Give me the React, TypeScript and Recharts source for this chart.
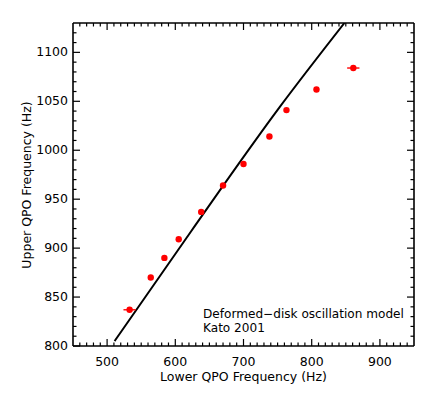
import { ComposedChart, Scatter, Line, XAxis, YAxis, ErrorBar } from "recharts";

const FONT = "'DejaVu Sans', sans-serif";
const RED = "#ff0000";

// observed QPO pairs (Hz)
const lowerQPO = [533, 564, 584, 605, 638, 670, 700, 738, 763, 807, 861];
const upperQPO = [837, 870, 890, 909, 937, 964, 986, 1014, 1041, 1062, 1084];
const lowerErr = [9, 0, 0, 0, 0, 0, 0, 0, 0, 0, 9];

// Kato 2001 deformed-disk model curve
const modelLower = [511, 623, 753, 848];
const modelUpper = [805, 917, 1044, 1130];

const xMajor = [500, 600, 700, 800, 900];
const yMajor = [800, 850, 900, 950, 1000, 1050, 1100];

const X_DOMAIN = [450, 950];
const Y_DOMAIN = [800, 1130];

const xTicks: number[] = [];
for (let v = X_DOMAIN[0] + 10; v < X_DOMAIN[1]; v += 10) xTicks.push(v);
const yTicks: number[] = [];
for (let v = Y_DOMAIN[0] + 10; v < Y_DOMAIN[1]; v += 10) yTicks.push(v);

const points = lowerQPO.map((x, i) => ({ x, y: upperQPO[i], err: lowerErr[i] }));
const model = modelLower.map((x, i) => ({ x, y: modelUpper[i] }));

const txt = { fontFamily: FONT, fontSize: 12.5, fill: "#000" };
const note = { fontFamily: FONT, fontSize: 12.1, fill: "#000" };
const axisLine = { stroke: "#000", strokeWidth: 1.6 };

function BottomTick({ x, y, payload }: any) {
  const v = payload.value;
  const major = xMajor.includes(v);
  return (
    <g>
      <line x1={x} x2={x} y1={y} y2={y - (major ? 7 : 3.5)} stroke="#000" strokeWidth={1.2} />
      {major && (
        <text x={x} y={y + 15} textAnchor="middle" dominantBaseline="central" style={txt}>{v}</text>
      )}
    </g>
  );
}

function TopTick({ x, y, payload }: any) {
  const major = xMajor.includes(payload.value);
  return <line x1={x} x2={x} y1={y} y2={y + (major ? 7 : 3.5)} stroke="#000" strokeWidth={1.2} />;
}

function LeftTick({ x, y, payload }: any) {
  const v = payload.value;
  const major = yMajor.includes(v);
  return (
    <g>
      <line x1={x} x2={x + (major ? 7 : 3.5)} y1={y} y2={y} stroke="#000" strokeWidth={1.2} />
      {major && (
        <text x={x - 5} y={y - 1} textAnchor="end" dominantBaseline="central" style={txt}>{v}</text>
      )}
    </g>
  );
}

function RightTick({ x, y, payload }: any) {
  const major = yMajor.includes(payload.value);
  return <line x1={x} x2={x - (major ? 7 : 3.5)} y1={y} y2={y} stroke="#000" strokeWidth={1.2} />;
}

export default function App() {
  return (
    <div style={{ position: "absolute", left: 0, top: 0, background: "#fff" }}>
      <ComposedChart width={436} height={393} margin={{ top: 22, right: 21, bottom: 0, left: 0 }}>
        <XAxis
          xAxisId="b" type="number" dataKey="x" domain={X_DOMAIN} allowDataOverflow
          ticks={xTicks} interval={0} tickSize={0} tickMargin={0} tick={<BottomTick />} height={47}
          axisLine={axisLine}
        />
        <XAxis
          xAxisId="t" orientation="top" type="number" dataKey="x" domain={X_DOMAIN} allowDataOverflow
          ticks={xTicks} interval={0} tickSize={0} tickMargin={0} tick={<TopTick />} height={1}
          axisLine={axisLine}
        />
        <YAxis
          yAxisId="l" type="number" dataKey="y" domain={Y_DOMAIN} allowDataOverflow
          ticks={[800, ...yTicks]} interval={0} tickSize={0} tickMargin={0} tick={<LeftTick />} width={73}
          axisLine={axisLine}
        />
        <YAxis
          yAxisId="r" orientation="right" type="number" dataKey="y" domain={Y_DOMAIN} allowDataOverflow
          ticks={yTicks} interval={0} tickSize={0} tickMargin={0} tick={<RightTick />} width={1}
          axisLine={axisLine}
        />
        <Line
          xAxisId="b" yAxisId="l" data={model} dataKey="y" type="monotone"
          stroke="#000" strokeWidth={2} dot={false} isAnimationActive={false}
        />
        {/* invisible copy so the top/right frame axes get drawn */}
        <Scatter
          xAxisId="t" yAxisId="r" data={points} isAnimationActive={false} shape={() => <g />}
        />
        <Scatter
          xAxisId="b" yAxisId="l" data={points} fill={RED} isAnimationActive={false}
          shape={(p: any) => <circle cx={p.cx} cy={p.cy} r={3.2} fill={RED} />}
        >
          <ErrorBar dataKey="err" direction="x" width={0} stroke={RED} strokeWidth={1.4} isAnimationActive={false} />
        </Scatter>
        <text x={243.5} y={376} textAnchor="middle" dominantBaseline="central" style={txt}>
          Lower QPO Frequency (Hz)
        </text>
        <text
          x={26} y={185} textAnchor="middle" dominantBaseline="central" style={txt}
          transform="rotate(-90 26 185)"
        >
          Upper QPO Frequency (Hz)
        </text>
        <text x={203} y={318} style={note}>Deformed−disk oscillation model</text>
        <text x={203} y={331.5} style={note}>Kato 2001</text>
      </ComposedChart>
    </div>
  );
}
